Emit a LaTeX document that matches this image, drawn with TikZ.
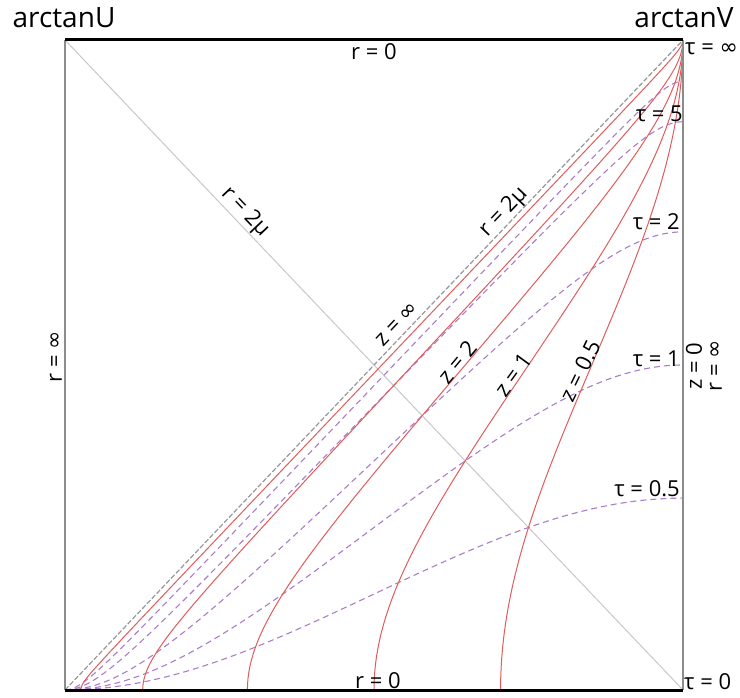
\documentclass[tikz,border=0pt]{standalone}
\usepackage{fontspec}
\setmainfont{Open Sans}
\newfontfamily\djv{DejaVu Sans}
\newcommand{\infsym}{{\djv ∞}}
\definecolor{redc}{RGB}{224,92,92}
\definecolor{purc}{RGB}{170,125,200}
\definecolor{antic}{RGB}{200,200,200}
\definecolor{diagc}{RGB}{150,150,150}
\definecolor{sidec}{RGB}{140,140,140}
\begin{document}
\begin{tikzpicture}[x=1pt,y=-1pt,
  redcurve/.style={draw=redc, line width=1pt},
  purcurve/.style={draw=purc, line width=1.1pt, dash pattern=on 6pt off 4pt},
  antiline/.style={draw=antic, line width=1pt},
  diagline/.style={draw=diagc, line width=1.2pt, dash pattern=on 5pt off 2pt},
  sideline/.style={draw=sidec, line width=1.5pt},
  edgeline/.style={draw=black, line width=3pt},
  lbl/.style={font=\fontsize{22}{24}\selectfont, inner sep=0pt},
  big/.style={font=\fontsize{28}{30}\selectfont, inner sep=0pt},
  declare function={
    rp(\q,\kk)=-atan(cos(\q)/(sin(\q)+\kk*cos(\q)));
    tp(\q,\kk)=-atan(cos(\q)/(\kk*cos(\q)-sin(\q)));
    PX(\q,\pp)=65+3.433333*(\q-(\pp)+90);
    PY(\q,\pp)=690-3.611111*((\pp)+\q+90);
  }]
\useasboundingbox (0,0) rectangle (740,698);
\coordinate (tl) at (65,40);
\coordinate (tr) at (683,40);
\coordinate (bl) at (65,690);
\coordinate (br) at (683,690);

\draw[antiline] (tl) -- (br);

% tau = const curves
\foreach \bb/\ee in {1/26.56, 2/45, 4/63.43, 10/78.69, 20/84.28}{
  \draw[purcurve] plot[domain=-90:\ee, samples=200]
    ({PX(\x,tp(\x,\bb))},{PY(\x,tp(\x,\bb))});
}
% z = const curves
\foreach \aa/\ss in {1/-26.56, 2/-45, 4/-63.43, 10/-78.69, 50/-87.70}{
  \draw[redcurve] plot[domain=\ss:90, samples=200]
    ({PX(\x,rp(\x,\aa))},{PY(\x,rp(\x,\aa))});
}

\draw[diagline] (bl) -- (tr);
\draw[sideline] (tl) -- (bl);
\draw[sideline] (tr) -- (br);
\draw[edgeline] (tl) -- (tr);
\draw[edgeline] (bl) -- (br);

% labels
\node[big, anchor=base] (lu) at (64,28) {arctanU};
\node[big, anchor=base] (lv) at (684,28) {arctanV};
\node[lbl, anchor=base west] (tinf) at (685,55) {τ = \infsym};
\node[lbl, anchor=base] (rtop) at (374,60) {r = 0};
\node[lbl, anchor=base] (rbot) at (378,688) {r = 0};
\node[lbl, anchor=base west] (tzero) at (684,689) {τ = 0};
\node[lbl, anchor=base east] (tfive) at (683,122) {τ = 5};
\node[lbl, anchor=base east] (ttwo) at (680,230) {τ = 2};
\node[lbl, anchor=base east] (tone) at (680,366) {τ = 1};
\node[lbl, anchor=base east] (thalf) at (680,496) {τ = 0.5};
\node[lbl, rotate=-46.4] (ra) at (245,212) {r = 2μ};
\node[lbl, rotate=46.4] (rb) at (504,212) {r = 2μ};
\node[lbl, rotate=46.4] (zinf) at (397,324) {z = \infsym};
\node[lbl, rotate=50] (ztwo) at (457,362) {z = 2};
\node[lbl, rotate=54] (zone) at (513,375) {z = 1};
\node[lbl, rotate=64] (zhalf) at (580,371) {z = 0.5};
\node[lbl, rotate=90] (zzero) at (694,366) {z = 0};
\node[lbl, rotate=90] (rinfr) at (716,366) {r = \infsym};
\node[lbl, rotate=90] (rinfl) at (56,357) {r = \infsym};
\end{tikzpicture}
\end{document}
